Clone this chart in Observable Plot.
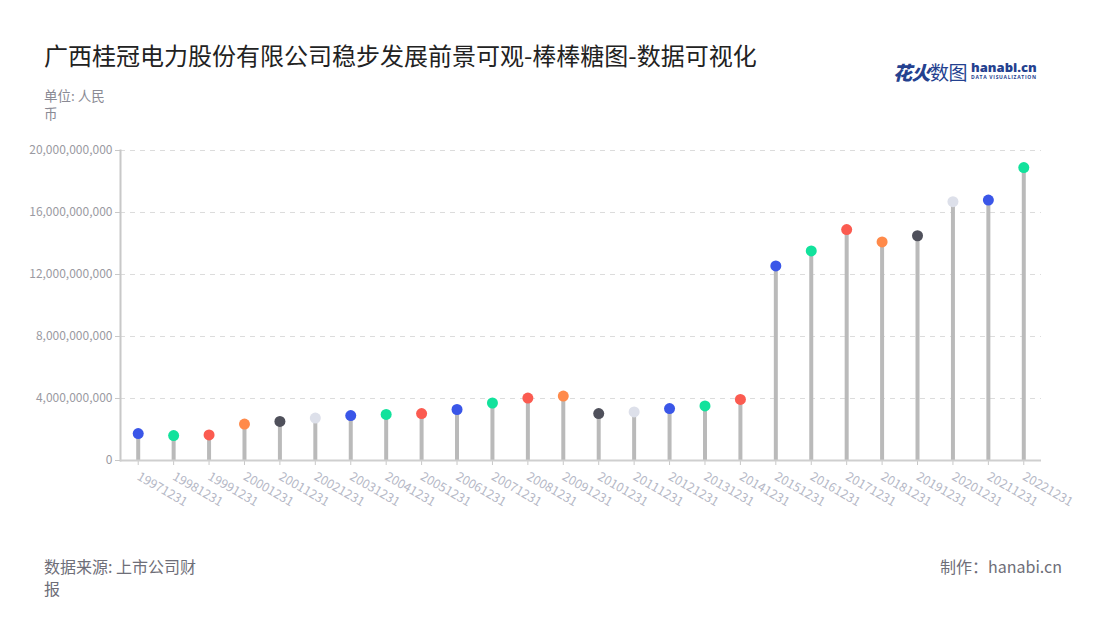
<!DOCTYPE html>
<html>
<head>
<meta charset="utf-8">
<script src="https://cdn.jsdelivr.net/npm/d3@7"></script>
<script src="https://cdn.jsdelivr.net/npm/@observablehq/plot@0.6"></script>
<style>
  html, body { margin:0; padding:0; background:#fff; }
  body { width:1100px; height:620px; position:relative; overflow:hidden; font-family:"Noto Sans CJK SC","Noto Sans",sans-serif; }
  .abs { position:absolute; }
  #title { left:44px; top:37px; font-size:24px; color:#222; white-space:nowrap; }
  #unit { left:44px; top:86px; width:72px; font-size:13.5px; line-height:18px; color:#8a8a94; }
  #logo { left:893px; top:58px; white-space:nowrap; color:#24418f; }
  #logo .cn { font-size:19px; letter-spacing:-0.5px; }
  #logo .cn b { font-weight:900; font-style:italic; }
  #logo .en { display:inline-block; vertical-align:top; margin-left:4px; margin-top:2px; }
  #logo .en b { font-size:13px; font-family:"Open Sans",sans-serif; display:block; line-height:14px; font-weight:800; }
  #logo .en i { font-style:normal; font-size:5px; display:block; letter-spacing:0.7px; line-height:7px; font-family:"Open Sans",sans-serif; font-weight:700; }
  #chart { left:0; top:130px; }
  #source { left:44px; top:555px; width:162px; font-size:16px; line-height:22px; color:#6e6e78; }
  #maker { right:38px; top:555px; font-size:16px; line-height:22px; color:#6e6e78; }
</style>
</head>
<body>
<div id="title" class="abs">广西桂冠电力股份有限公司稳步发展前景可观-棒棒糖图-数据可视化</div>
<div id="unit" class="abs">单位: 人民币</div>
<div id="logo" class="abs"><span class="cn"><b>花火</b>数图</span><span class="en"><b>hanabi.cn</b><i>DATA VISUALIZATION</i></span></div>
<div id="chart" class="abs"></div>
<div id="source" class="abs">数据来源: 上市公司财报</div>
<div id="maker" class="abs">制作：hanabi.cn</div>
<script>
const dates = ["19971231","19981231","19991231","20001231","20011231","20021231","20031231","20041231","20051231","20061231","20071231","20081231","20091231","20101231","20111231","20121231","20131231","20141231","20151231","20161231","20171231","20181231","20191231","20201231","20211231","20221231"];
const values = [1.74e9,1.61e9,1.65e9,2.35e9,2.52e9,2.74e9,2.90e9,2.97e9,3.03e9,3.29e9,3.71e9,4.03e9,4.16e9,3.03e9,3.13e9,3.35e9,3.52e9,3.94e9,12.55e9,13.52e9,14.90e9,14.10e9,14.50e9,16.70e9,16.80e9,18.90e9];
const dotColors = ["#3a56e8","#12e29c","#fb5b50","#ff8a4a","#4f505b","#dde0ea","#3a56e8","#12e29c","#fb5b50","#3a56e8","#12e29c","#fb5b50","#ff8a4a","#4f505b","#dde0ea","#3a56e8","#12e29c","#fb5b50","#3a56e8","#12e29c","#fb5b50","#ff8a4a","#4f505b","#dde0ea","#3a56e8","#12e29c"];
const yTicks = [0,4e9,8e9,12e9,16e9,20e9];

const data = dates.map((d,i)=>({date:d, value:values[i], color:dotColors[i]}));

const chart = Plot.plot({
  width: 1100, height: 400,
  marginTop: 20, marginBottom: 70, marginLeft: 120, marginRight: 59,
  style: {fontFamily: "'Noto Sans CJK SC','Noto Sans',sans-serif", fontSize: "12px", background: "#fff"},
  x: {type: "band", domain: dates, padding: 0, round: false, label: null},
  y: {domain: [0, 2e10], label: null},
  marks: [
    Plot.gridY(yTicks.filter(t=>t>0), {stroke:"#dcdcdc", strokeOpacity:1, strokeDasharray:"5,5", strokeWidth:1}),
    Plot.frame({anchor:"left", stroke:"#c8c8c8", strokeWidth:2}),
    Plot.ruleX(data, {x:"date", y1:0, y2:"value", stroke:"#bababa", strokeWidth:4}),
    Plot.axisY(yTicks, {tickFormat: d3.format(","), tickSize:5, tickPadding:3, stroke:"#c8c8c8", color:"#9a9aa2", fontSize:12, label:null}),
    Plot.axisX({tickRotate:30, tickSize:5, tickPadding:10, stroke:"#c8c8c8", color:"#b5b8c6", fontSize:12.5, label:null}),
    Plot.ruleY([0], {stroke:"#cfcfcf", strokeWidth:2}),
    Plot.dot(data, {x:"date", y:"value", fill:"color", r:5.5, stroke:null})
  ]
});
document.getElementById("chart").appendChild(chart);
</script>
</body>
</html>
